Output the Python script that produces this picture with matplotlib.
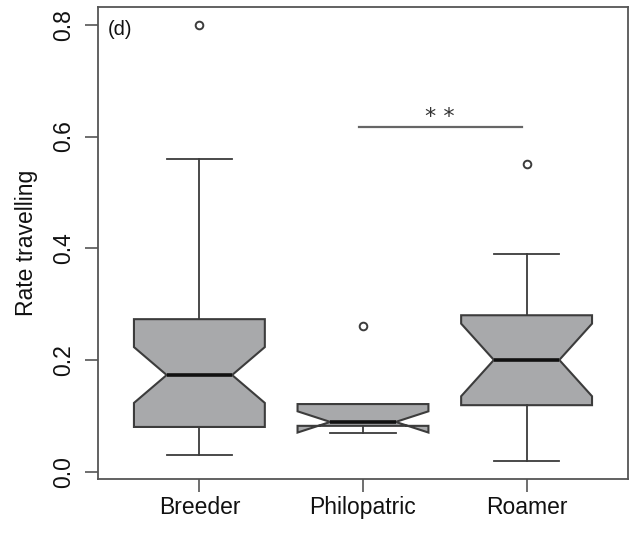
import matplotlib
matplotlib.use("Agg")
import matplotlib.pyplot as plt

categories = ["Breeder", "Philopatric", "Roamer"]
q1 = [0.080, 0.082, 0.119]
medians = [0.173, 0.089, 0.200]
q3 = [0.273, 0.121, 0.280]
whisker_low = [0.029, 0.069, 0.019]
whisker_high = [0.560, 0.121, 0.389]
notch_low = [0.123, 0.070, 0.135]
notch_high = [0.223, 0.108, 0.265]
outliers = [[0.80], [0.261], [0.550]]
yticks = [0.0, 0.2, 0.4, 0.6, 0.8]
ytick_labels = ["0.0", "0.2", "0.4", "0.6", "0.8"]

plt.rcParams['font.family'] = ['Liberation Sans', 'DejaVu Sans']

fig = plt.figure(figsize=(6.32, 5.33), dpi=100)
ax = fig.add_axes([0.155, 0.1013, 0.8387, 0.8856])

stats = []
for i, c in enumerate(categories):
    stats.append(dict(label=c, med=medians[i], q1=q1[i], q3=q3[i],
                      whislo=whisker_low[i], whishi=whisker_high[i],
                      cilo=notch_low[i], cihi=notch_high[i],
                      fliers=outliers[i]))

edge = "#3c3c3c"
ax.bxp(stats, positions=[1, 2, 3], widths=0.8, capwidths=0.4,
       shownotches=True, patch_artist=True,
       boxprops=dict(facecolor="#a8a9ab", edgecolor=edge, linewidth=1.5),
       medianprops=dict(color="#111111", linewidth=2.6, solid_capstyle="butt"),
       whiskerprops=dict(color=edge, linewidth=1.3),
       capprops=dict(color=edge, linewidth=1.3),
       flierprops=dict(marker="o", markersize=5.5, markerfacecolor="white",
                       markeredgecolor=edge, markeredgewidth=1.4, linestyle="none"))

ax.set_xlim(0.38, 3.62)
ax.set_ylim(-0.0132, 0.832)
ax.set_yticks(yticks)
ax.set_yticklabels(ytick_labels, rotation=90, va="center")
ax.set_xticks([1, 2, 3])
ax.set_xticklabels(categories)
ax.tick_params(axis="both", direction="out", length=9.5, width=1.2,
               color="#555555", labelsize=16.5, labelcolor="#111111")
ax.tick_params(axis="y", pad=7)
ax.tick_params(axis="x", pad=3)
ax.set_ylabel("Rate travelling", fontsize=16.5, color="#111111", labelpad=10)

for s in ax.spines.values():
    s.set_color("#555555")
    s.set_linewidth(1.3)

ax.plot([1.975, 2.975], [0.617, 0.617], color="#666666", linewidth=1.6)
ax.text(2.47, 0.617, "* *", ha="center", va="bottom", fontsize=16,
        family="DejaVu Sans", color="#333333")
ax.text(0.019, 0.972, "(d)", transform=ax.transAxes, ha="left", va="top",
        fontsize=14.5, color="#111111")

fig.savefig("out.png", dpi=100)
